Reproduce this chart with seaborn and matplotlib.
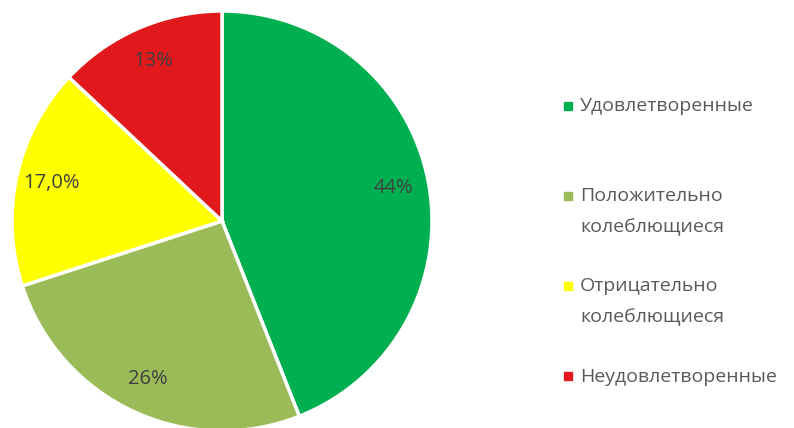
import matplotlib
matplotlib.use("Agg")
import matplotlib.pyplot as plt
from matplotlib.lines import Line2D
from matplotlib.legend_handler import HandlerLine2D
import seaborn as sns

# данные
categories = ["Удовлетворенные", "Положительно\nколеблющиеся",
              "Отрицательно\nколеблющиеся", "Неудовлетворенные"]
values = [44, 26, 17, 13]
pct_labels = ["44%", "26%", "17,0%", "13%"]
colors = ["#00AF50", "#9BBB59", "#FFFF00", "#E2191C"]

sns.set_theme(style="white")
plt.rcParams["font.family"] = ["Open Sans", "DejaVu Sans"]


class FirstLineHandler(HandlerLine2D):
    # маркер на уровне первой строки подписи
    def create_artists(self, legend, orig_handle, xdescent, ydescent,
                       width, height, fontsize, trans):
        return super().create_artists(legend, orig_handle, xdescent,
                                      ydescent - 1.65 * fontsize,
                                      width, height, fontsize, trans)


fig = plt.figure(figsize=(7.94, 4.28), dpi=100)
ax = fig.add_axes([12 / 794, -3 / 428, 420 / 794, 420 / 428])

it = iter(pct_labels)
wedges, texts, autotexts = ax.pie(
    values, colors=colors, startangle=90, counterclock=False,
    autopct=lambda p: next(it), pctdistance=0.83,
    wedgeprops=dict(edgecolor="white", linewidth=2.5),
    textprops=dict(color="#404040", fontsize=14.5),
)
ax.set_xlim(-1, 1)
ax.set_ylim(-1, 1)
ax.set_aspect("equal")
for w in wedges:
    w.set_clip_on(False)

# в легенде все записи одной высоты (две строки)
leg_labels = [c if "\n" in c else c + "\n" for c in categories]
handles = [Line2D([], [], marker="s", linestyle="none", markersize=6,
                  markerfacecolor=c, markeredgecolor=c) for c in colors]
leg = fig.legend(handles, leg_labels, loc="center left",
                 bbox_to_anchor=(552 / 794, 1 - 257 / 428),
                 frameon=False, fontsize=14, labelspacing=2.1,
                 handlelength=0.8, handletextpad=0.25, borderaxespad=0,
                 handler_map={Line2D: FirstLineHandler()})
for t in leg.get_texts():
    t.set_color("#595959")
    t.set_linespacing(1.95)

fig.savefig("out.png", dpi=100)
